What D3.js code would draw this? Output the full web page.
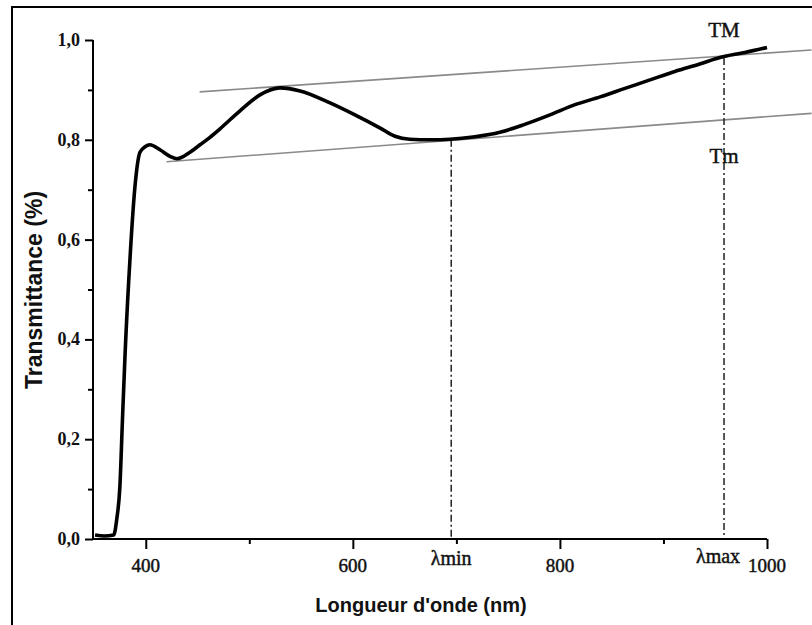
<!DOCTYPE html>
<html>
<head>
<meta charset="utf-8">
<script src="https://cdn.jsdelivr.net/npm/d3@7"></script>
<style>
  html, body { margin: 0; padding: 0; background: #fff; }
  #chart { width: 812px; height: 625px; }
</style>
</head>
<body>
<div id="chart"></div>
<script>
// ---- data (wavelength in nm, transmittance as fraction)
const wavelength = [351, 360, 369, 372, 375, 377.5, 380, 385, 389.6, 394.4, 399.3, 404, 413.7, 423.4,
  430.2, 442.7, 452.4, 462, 471.7, 491, 510.3, 529.6, 549, 578, 602, 626, 640.7, 655, 674.5, 693.8,
  718, 742, 766, 790.4, 814, 838.8, 862.8, 887, 911, 935, 954.6, 978.7, 1000];
const transmittance = [0.008, 0.006, 0.008, 0.04, 0.105, 0.24, 0.37, 0.57, 0.707, 0.775, 0.786, 0.79,
  0.78, 0.767, 0.762, 0.775, 0.79, 0.805, 0.822, 0.858, 0.89, 0.904, 0.898, 0.874, 0.85, 0.824, 0.807,
  0.801, 0.80, 0.801, 0.806, 0.815, 0.831, 0.85, 0.87, 0.886, 0.903, 0.92, 0.937, 0.952, 0.965, 0.975, 0.985];

// upper (TM) and lower (Tm) envelope lines: two end points each
const envTMLambda = [452, 1043];
const envTMValue  = [0.896, 0.98];
const envTmLambda = [420, 1043];
const envTmValue  = [0.756, 0.853];

// marked wavelengths
const lambdaMin = 695;
const lambdaMax = 958.5;

// ticks
const xMajorTicks = [400, 600, 800, 1000];
const xMinorTicks = [500, 700, 900];
const yMajorTicks = [0, 0.2, 0.4, 0.6, 0.8, 1.0];
const yMinorTicks = [0.1, 0.3, 0.5, 0.7, 0.9];
const yTickLabels = ['0,0', '0,2', '0,4', '0,6', '0,8', '1,0'];

const W = 812, H = 625;
const svg = d3.select('#chart').append('svg')
  .attr('width', W).attr('height', H)
  .attr('viewBox', `0 0 ${W} ${H}`);

// outer frame (only left / top visible in reference)
svg.append('path')
  .attr('d', `M12,${H} L12,7 L${W},7`)
  .attr('fill', 'none').attr('stroke', '#000').attr('stroke-width', 2);

const x = d3.scaleLinear().domain([350, 1000]).range([94, 767]);
const y = d3.scaleLinear().domain([0, 1]).range([539, 40]);

const serif = 'Liberation Serif, Times New Roman, serif';
const sans = 'Liberation Sans, Arial, sans-serif';

// slightly heavier serif text, like the scanned figure
function serifText(sel, size) {
  return sel.attr('font-family', serif).attr('font-size', size)
    .attr('fill', '#111').attr('stroke', '#111').attr('stroke-width', 0.45);
}

// ---- envelope lines
function envLine(lams, vals) {
  svg.append('line')
    .attr('x1', x(lams[0])).attr('y1', y(vals[0]))
    .attr('x2', x(lams[1])).attr('y2', y(vals[1]))
    .attr('stroke', '#8a8a8a').attr('stroke-width', 1.6);
}
envLine(envTMLambda, envTMValue);
envLine(envTmLambda, envTmValue);

// ---- dash-dot markers
const tmAt = l => envTMValue[0] + (l - envTMLambda[0]) * (envTMValue[1] - envTMValue[0]) / (envTMLambda[1] - envTMLambda[0]);
svg.append('line')
  .attr('x1', x(lambdaMin)).attr('x2', x(lambdaMin))
  .attr('y1', y(0.80)).attr('y2', y(0))
  .attr('stroke', '#222').attr('stroke-width', 1.5)
  .attr('stroke-dasharray', '7,3,2,3');
svg.append('line')
  .attr('x1', x(lambdaMax)).attr('x2', x(lambdaMax))
  .attr('y1', y(tmAt(lambdaMax)) + 2).attr('y2', y(0))
  .attr('stroke', '#222').attr('stroke-width', 1.5)
  .attr('stroke-dasharray', '7,3,2,3');

// ---- spectrum
const line = d3.line()
  .x((d, i) => x(wavelength[i]))
  .y(d => y(d))
  .curve(d3.curveMonotoneX);
svg.append('path')
  .datum(transmittance)
  .attr('d', line)
  .attr('fill', 'none')
  .attr('stroke', '#000')
  .attr('stroke-width', 3.6)
  .attr('stroke-linejoin', 'round');

// ---- axes
const xAxis = svg.append('g')
  .attr('transform', `translate(0,${y(0)})`)
  .call(d3.axisBottom(x).tickValues(xMajorTicks).tickSize(10).tickFormat(''));
xAxis.select('.domain').attr('d', `M${93},0H${x(1000)}`);
xAxis.selectAll('line, .domain').attr('stroke', '#000').attr('stroke-width', 2);

const xMinor = svg.append('g')
  .attr('transform', `translate(0,${y(0)})`)
  .call(d3.axisBottom(x).tickValues(xMinorTicks).tickSize(5).tickFormat(''));
xMinor.select('.domain').remove();
xMinor.selectAll('line').attr('stroke', '#000').attr('stroke-width', 2);

const yAxis = svg.append('g')
  .attr('transform', `translate(${x(350) - 1},0)`)
  .call(d3.axisLeft(y).tickValues(yMajorTicks).tickSize(8).tickFormat(''));
yAxis.select('.domain').attr('d', `M0,${y(0)}V${y(1)}`);
yAxis.selectAll('line, .domain').attr('stroke', '#000').attr('stroke-width', 2);

const yMinor = svg.append('g')
  .attr('transform', `translate(${x(350) - 1},0)`)
  .call(d3.axisLeft(y).tickValues(yMinorTicks).tickSize(5).tickFormat(''));
yMinor.select('.domain').remove();
yMinor.selectAll('line').attr('stroke', '#000').attr('stroke-width', 2);

// tick labels
svg.append('g').selectAll('text')
  .data(yMajorTicks)
  .join('text')
  .attr('x', 80)
  .attr('y', d => y(d) + 6)
  .attr('text-anchor', 'end')
  .attr('font-family', serif).attr('font-size', 18).attr('font-weight', 'bold')
  .attr('fill', '#111')
  .text((d, i) => yTickLabels[i]);

svg.append('g').selectAll('text')
  .data(xMajorTicks)
  .join('text')
  .attr('x', d => x(d))
  .attr('y', 572)
  .attr('text-anchor', 'middle')
  .call(serifText, 19)
  .text(d => d);

svg.append('text')
  .attr('x', x(lambdaMin)).attr('y', 565)
  .attr('text-anchor', 'middle')
  .call(serifText, 20)
  .text('λmin');
svg.append('text')
  .attr('x', x(lambdaMax) - 6).attr('y', 563)
  .attr('text-anchor', 'middle')
  .call(serifText, 20)
  .text('λmax');

// envelope labels
svg.append('text')
  .attr('x', x(lambdaMax)).attr('y', 37)
  .attr('text-anchor', 'middle')
  .call(serifText, 21)
  .text('TM');
svg.append('text')
  .attr('x', x(lambdaMax)).attr('y', 163)
  .attr('text-anchor', 'middle')
  .call(serifText, 21)
  .text('Tm');

// axis titles
svg.append('text')
  .attr('x', 421).attr('y', 612)
  .attr('text-anchor', 'middle')
  .attr('font-family', sans).attr('font-size', 20).attr('font-weight', 'bold')
  .attr('fill', '#111')
  .text("Longueur d'onde (nm)");
svg.append('text')
  .attr('transform', 'translate(42,290) rotate(-90)')
  .attr('text-anchor', 'middle')
  .attr('font-family', sans).attr('font-size', 23).attr('font-weight', 'bold')
  .attr('fill', '#111')
  .text('Transmittance (%)');
</script>
</body>
</html>
